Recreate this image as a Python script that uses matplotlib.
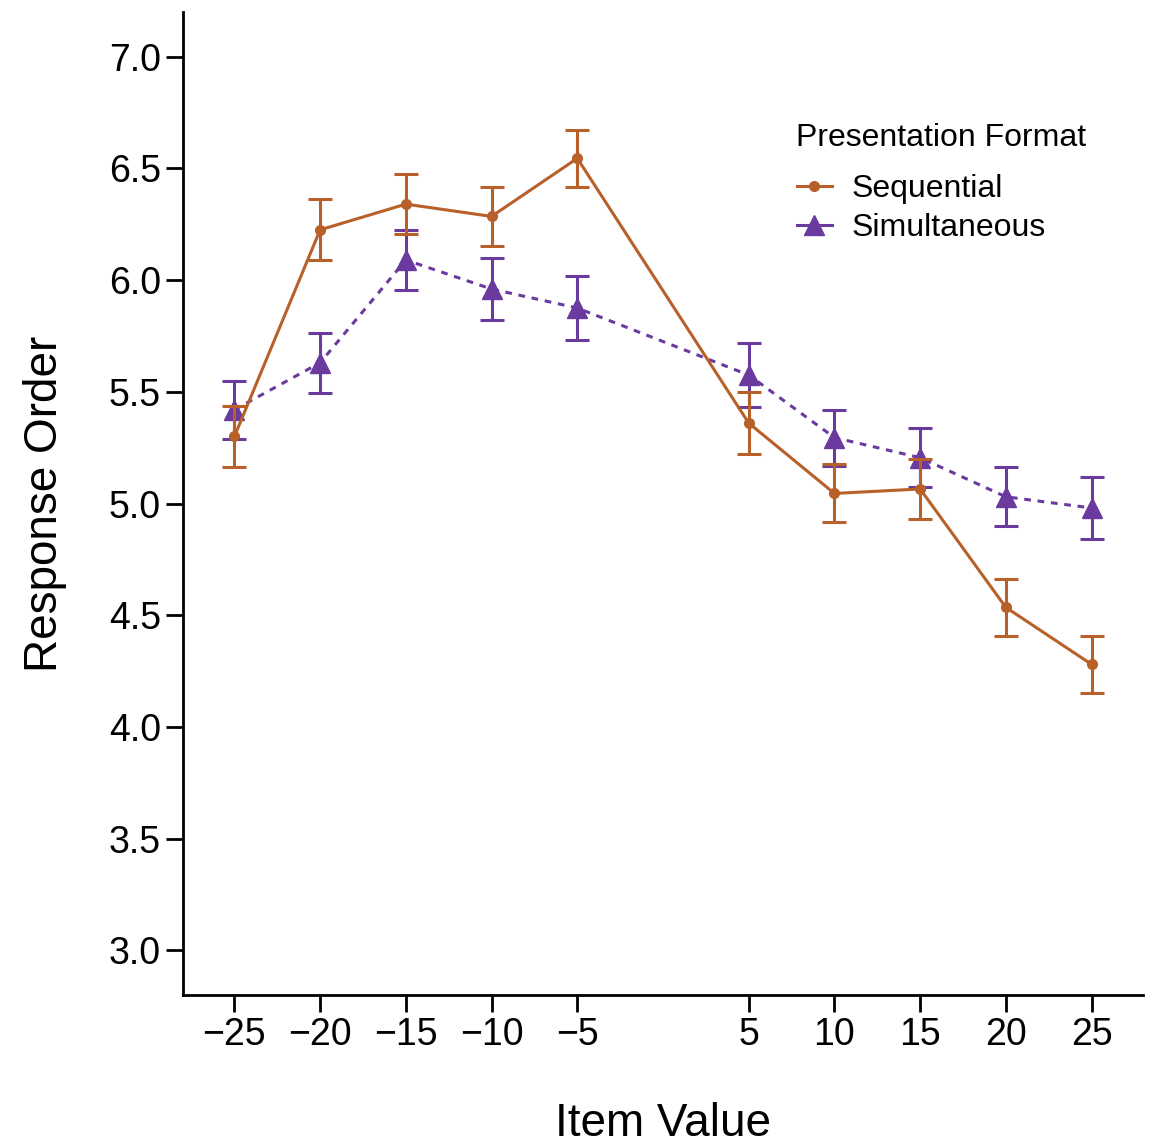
import matplotlib
matplotlib.use("Agg")
import matplotlib.pyplot as plt
import numpy as np

plt.rcParams['font.family'] = ['Liberation Sans', 'DejaVu Sans']

# valeurs
item_value = [-25, -20, -15, -10, -5, 5, 10, 15, 20, 25]
seq_mean = [5.30, 6.225, 6.34, 6.285, 6.545, 5.36, 5.045, 5.065, 4.535, 4.28]
seq_err = [0.135, 0.137, 0.134, 0.132, 0.128, 0.137, 0.13, 0.134, 0.128, 0.128]
sim_mean = [5.42, 5.63, 6.09, 5.96, 5.875, 5.575, 5.295, 5.205, 5.03, 4.98]
sim_err = [0.13, 0.135, 0.133, 0.138, 0.143, 0.143, 0.125, 0.132, 0.132, 0.137]
x_ticks = [-25, -20, -15, -10, -5, 5, 10, 15, 20, 25]
y_ticks = [3.0, 3.5, 4.0, 4.5, 5.0, 5.5, 6.0, 6.5, 7.0]

c_seq = '#B8602A'
c_sim = '#6A3A9E'

fig = plt.figure(figsize=(11.5, 11.47), dpi=100)
ax = fig.add_axes([183/1150, 1 - 995/1147, (1143-183)/1150, (995-12)/1147])

ax.errorbar(item_value, seq_mean, yerr=seq_err, color=c_seq, marker='o', markersize=7,
            linewidth=2.2, capsize=8.5, capthick=2.2, elinewidth=2.2, label='Sequential', zorder=3)
ax.errorbar(item_value, sim_mean, yerr=sim_err, color=c_sim, marker='^', markersize=15,
            linewidth=2.2, linestyle=(0, (2.2, 2.2)), capsize=8.5, capthick=2.2, elinewidth=2.2,
            label='Simultaneous', zorder=2)

ax.set_xlim(-28, 28)
ax.set_ylim(2.8, 7.2)
ax.set_xticks(x_ticks)
ax.set_xticklabels(['\u2212' + str(-v) if v < 0 else str(v) for v in x_ticks])
ax.set_yticks(y_ticks)
ax.set_yticklabels(['%.1f' % v for v in y_ticks])

for s in ['top', 'right']:
    ax.spines[s].set_visible(False)
for s in ['left', 'bottom']:
    ax.spines[s].set_linewidth(2)
ax.tick_params(axis='both', labelsize=27, width=2, length=12, pad=4)

ax.set_xlabel('Item Value', fontsize=33, labelpad=35)
ax.set_ylabel('Response Order', fontsize=33, labelpad=30)

# legende (titre a part)
ax.text(0.6385, 0.872, 'Presentation Format', transform=ax.transAxes,
        fontsize=23, ha='left', va='center')
h, l = ax.get_legend_handles_labels()
h = [hh[0] for hh in h]
leg = ax.legend(h, l, fontsize=23, frameon=False, loc='upper left',
                bbox_to_anchor=(0.6395, 0.835), handlelength=1.1, handletextpad=0.6,
                labelspacing=0.27, borderpad=0, borderaxespad=0)
for line in leg.get_lines():
    line.set_linestyle('-')

fig.savefig('out.png', dpi=100)
